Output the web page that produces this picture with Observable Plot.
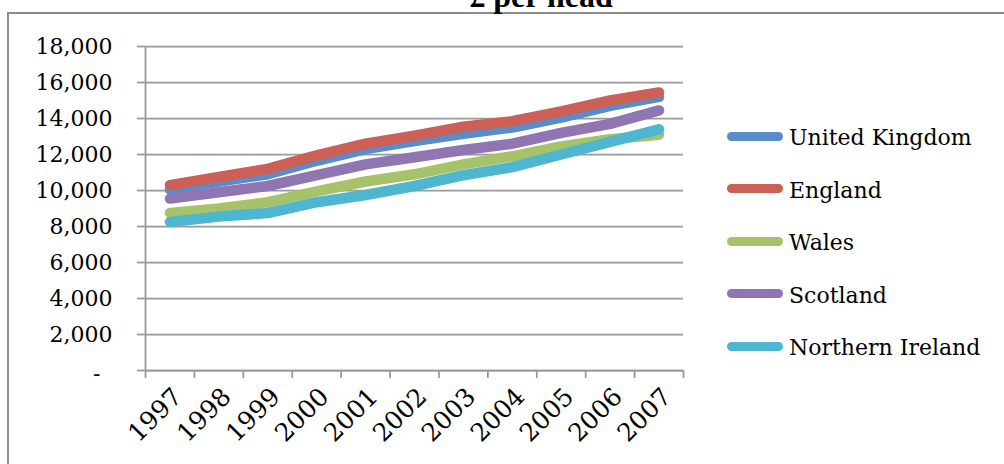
<!DOCTYPE html>
<html>
<head>
<meta charset="utf-8">
<script src="https://cdn.jsdelivr.net/npm/d3@7"></script>
<script src="https://cdn.jsdelivr.net/npm/@observablehq/plot@0.6"></script>
<style>
  body { margin: 0; background: #fff; }
  #wrap { position: relative; width: 1004px; height: 464px; overflow: hidden; font-family: "DejaVu Serif", serif; }
  #frame { position: absolute; left: 7px; top: 12px; width: 1020px; height: 500px;
           border-left: 2px solid #8c8c8c; border-top: 2px solid #8c8c8c; }
  #title { position: absolute; left: 0; width: 1082px; top: -22px; height: 30px; line-height: 30px;
           text-align: center; font: bold 32px "Liberation Serif", serif; color: #000; }
  #chart { position: absolute; left: 0; top: 0; }
  #legend { position: absolute; left: 727px; top: 0; }
  .row { position: absolute; left: 0; height: 30px; display: flex; align-items: center; white-space: nowrap; }
  .sw { width: 56px; height: 9px; border-radius: 4.5px; margin-right: 6px; }
  .lab { font-size: 22px; line-height: 30px; position: relative; top: 2px; color: #000; }
</style>
</head>
<body>
<div id="wrap">
  <div id="frame"></div>
  <div id="title">£ per head</div>
  <div id="chart"></div>
  <div id="legend"></div>
</div>
<script>
// Gross value added, £ per head, by country of the UK
const years = [1997, 1998, 1999, 2000, 2001, 2002, 2003, 2004, 2005, 2006, 2007];
const series = ["United Kingdom", "England", "Wales", "Scotland", "Northern Ireland"];
const unitedKingdom   = [10050, 10500, 10900, 11650, 12300, 12750, 13150, 13500, 14050, 14700, 15200];
const england         = [10300, 10750, 11200, 11950, 12600, 13050, 13550, 13850, 14400, 15000, 15450];
const wales           = [8750, 9000, 9350, 9950, 10500, 10900, 11450, 11900, 12450, 12850, 13100];
const scotland        = [9550, 9900, 10250, 10850, 11450, 11850, 12250, 12600, 13200, 13700, 14450];
const northernIreland = [8250, 8550, 8750, 9350, 9750, 10250, 10850, 11300, 12000, 12700, 13400];
const colors = ["#5a8dc8", "#cc5f56", "#a7c36a", "#8f75b1", "#4fb6cf"];
const yTicks = [0, 2000, 4000, 6000, 8000, 10000, 12000, 14000, 16000, 18000];

const values = [unitedKingdom, england, wales, scotland, northernIreland];
const data = series.flatMap((s, i) => years.map((yr, j) => ({series: s, year: yr, value: values[i][j]})));

// category boundaries for the x-axis tick marks
const bounds = [years[0] - 0.5, ...years.map(y => y + 0.5)];

const grid = "#999";
const chart = Plot.plot({
  width: 1004,
  height: 464,
  marginLeft: 145,
  marginRight: 321,
  marginTop: 46,
  marginBottom: 94,
  style: {fontFamily: "DejaVu Serif", fontSize: "22px", color: "#000", background: "transparent", overflow: "visible"},
  x: {domain: [bounds[0], bounds[bounds.length - 1]], label: null},
  y: {domain: [0, 18000], label: null},
  color: {domain: series, range: colors},
  marks: [
    Plot.gridY(yTicks, {stroke: grid, strokeOpacity: 1, strokeWidth: 1.75}),
    Plot.ruleX([bounds[0]], {stroke: grid, strokeWidth: 1.75}),
    Plot.ruleY([0], {stroke: grid, strokeWidth: 1.75}),
    Plot.axisY(yTicks, {tickSize: 8, tickPadding: 25, stroke: grid, strokeWidth: 1.75, fill: "#000",
      tickFormat: d => d === 0 ? "" : d3.format(",")(d)}),
    Plot.text([0], {y: d => d, frameAnchor: "left", dx: -45, dy: 3, text: () => "-", textAnchor: "end", fill: "#000"}),
    Plot.axisX(bounds, {tickSize: 8, stroke: grid, strokeWidth: 1.75, tickFormat: () => ""}),
    Plot.axisX(years, {tickSize: 0, tickRotate: -45, tickPadding: 22, dx: 8, fontSize: 25, fill: "#000",
      tickFormat: d => String(d)}),
    Plot.line(data, {x: "year", y: "value", z: "series", stroke: "series", strokeWidth: 10.5,
      strokeLinecap: "round", strokeLinejoin: "round"})
  ]
});
document.getElementById("chart").appendChild(chart);

// legend
const legend = document.getElementById("legend");
series.forEach((s, i) => {
  const row = document.createElement("div");
  row.className = "row";
  row.style.top = (136 + i * 52.5 - 15) + "px";
  const sw = document.createElement("div");
  sw.className = "sw";
  sw.style.background = colors[i];
  const lab = document.createElement("span");
  lab.className = "lab";
  lab.textContent = s;
  row.appendChild(sw);
  row.appendChild(lab);
  legend.appendChild(row);
});
</script>
</body>
</html>
